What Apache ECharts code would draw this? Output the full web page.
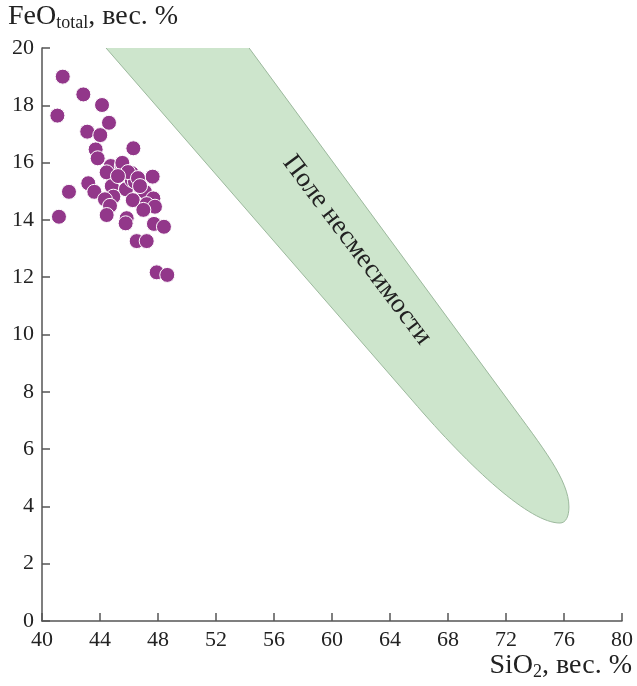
<!DOCTYPE html>
<html>
<head>
<meta charset="utf-8">
<script src="https://cdn.jsdelivr.net/npm/echarts@6/dist/echarts.min.js"></script>
<style>
html,body{margin:0;padding:0;background:#fff;}
#chart{width:637px;height:686px;}
</style>
</head>
<body>
<div id="chart"></div>
<script>
// SiO2 (wt.%) values of the samples
var sio2 = [41.43,42.85,44.14,41.06,44.62,43.12,44.02,43.70,46.30,43.84,
            44.74,45.50,45.61,44.46,47.63,43.19,41.86,44.81,45.79,46.19,
            43.61,44.92,44.34,47.10,46.26,47.68,47.22,47.79,44.69,46.99,
            44.46,41.17,45.84,45.77,47.72,48.41,46.53,47.22,47.91,48.64,
            45.54,46.19,46.41,45.93,46.62,46.76,45.24];
// FeO total (wt.%) values of the samples
var feo  = [19.00,18.38,18.01,17.64,17.39,17.08,16.96,16.46,16.50,16.15,
            15.88,15.88,15.80,15.66,15.51,15.28,14.98,15.18,15.07,15.39,
            14.98,14.81,14.72,14.98,14.69,14.75,14.55,14.46,14.49,14.35,
            14.17,14.11,14.06,13.88,13.86,13.76,13.26,13.26,12.17,12.08,
            15.99,15.63,15.33,15.67,15.46,15.18,15.53];
// outline of the immiscibility field (SiO2, FeO) as path commands:
// M/L = vertex, C = cubic curve (two control points + end); the part above 20 is clipped
var fieldCmd = ['M','L','L','C','C','C','L'];
var fieldPts = [
  [[42.70,21.00]],
  [[52.83,21.00]],
  [[72.14,7.71]],
  [[74.55,6.04],[76.34,4.92],[76.34,3.98]],
  [[76.34,3.66],[76.14,3.42],[75.72,3.42]],
  [[73.66,3.42],[69.66,5.27],[65.52,7.71]],
  [[42.70,21.00]]
];
var xTicks = [40,44,48,52,56,60,64,68,72,76,80];
var yTicks = [0,2,4,6,8,10,12,14,16,18,20];
var fieldLabel = 'Поле несмесимости';
var fieldLabelPos = [61.72, 12.95];

var points = sio2.map(function(v,i){return [v, feo[i]];});

var FONT = '"Liberation Serif","DejaVu Serif",serif';
var chart = echarts.init(document.getElementById('chart'), null, {renderer:'canvas'});
var option = {
  animation:false,
  backgroundColor:'#fff',
  grid:{left:42, right:15, top:48, bottom:65},
  xAxis:{
    type:'value', min:xTicks[0], max:xTicks[xTicks.length-1], interval:4,
    axisLine:{show:true, lineStyle:{color:'#555', width:1.5}},
    axisTick:{show:true, inside:true, length:8, lineStyle:{color:'#555', width:1.5}},
    axisLabel:{color:'#222', fontFamily:FONT, fontSize:22, margin:8},
    splitLine:{show:false}
  },
  yAxis:{
    type:'value', min:yTicks[0], max:yTicks[yTicks.length-1], interval:2,
    axisLine:{show:true, lineStyle:{color:'#555', width:1.5}},
    axisTick:{show:true, inside:true, length:8, lineStyle:{color:'#555', width:1.5}},
    axisLabel:{color:'#222', fontFamily:FONT, fontSize:22, margin:8},
    splitLine:{show:false}
  },
  series:[
    {
      type:'custom',
      data:[0],
      z:1,
      clip:true,
      renderItem:function(params, api){
        var d = '';
        fieldCmd.forEach(function(cmd, i){
          d += cmd;
          fieldPts[i].forEach(function(p){
            var c = api.coord(p);
            d += ' ' + c[0].toFixed(2) + ' ' + c[1].toFixed(2);
          });
          d += ' ';
        });
        d += 'Z';
        var c = api.coord(fieldLabelPos);
        return {
          type:'group',
          children:[
            {type:'path', shape:{pathData:d},
             style:{fill:'#cde5cc', stroke:'#9cb99d', lineWidth:1}},
            {type:'text', x:c[0], y:c[1], rotation:-53*Math.PI/180,
             style:{text:fieldLabel, fill:'#222', font:'27px '+FONT,
                    align:'center', verticalAlign:'middle'}}
          ]
        };
      }
    },
    {
      type:'scatter',
      data:points,
      z:3,
      symbolSize:15,
      itemStyle:{color:'#92378a', borderColor:'#ffffff', borderWidth:1, opacity:1}
    }
  ],
  graphic:[
    {type:'text', left:8, top:3, z:10,
     style:{
       rich:{
         a:{fontFamily:FONT, fontSize:28, fill:'#222'},
         s:{fontFamily:FONT, fontSize:18, fill:'#222', padding:[13,0,0,0]}
       },
       text:'{a|FeO}{s|total}{a|, вес. %}'
     }},
    {type:'text', right:5, bottom:5, z:10,
     style:{
       rich:{
         a:{fontFamily:FONT, fontSize:28, fill:'#222'},
         s:{fontFamily:FONT, fontSize:18, fill:'#222', padding:[13,0,0,0]}
       },
       text:'{a|SiO}{s|2}{a|, вес. %}'
     }}
  ]
};
chart.setOption(option);
</script>
</body>
</html>
